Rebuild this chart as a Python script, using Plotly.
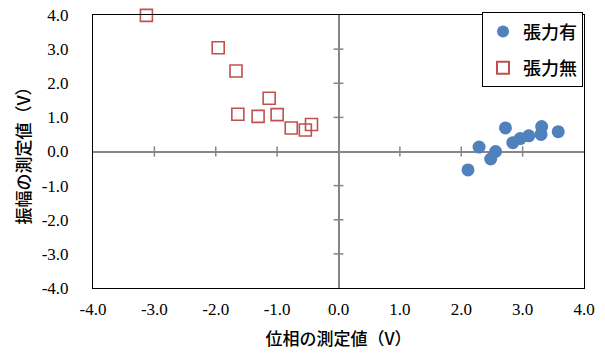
import plotly.graph_objects as go

# 張力有 (with tension) measurements
phase_with = [2.11, 2.29, 2.48, 2.56, 2.72, 2.84, 2.96, 3.10, 3.30, 3.31, 3.58]
amp_with = [-0.54, 0.13, -0.22, 0.00, 0.69, 0.26, 0.38, 0.46, 0.50, 0.73, 0.58]

# 張力無 (without tension) measurements
phase_without = [-3.13, -1.96, -1.67, -1.13, -1.64, -1.31, -1.00, -0.77, -0.54, -0.44]
amp_without = [3.99, 3.04, 2.36, 1.56, 1.09, 1.03, 1.08, 0.69, 0.63, 0.79]

tick_vals = [-4, -3, -2, -1, 0, 1, 2, 3, 4]
tick_text = ["-4.0", "-3.0", "-2.0", "-1.0", "0.0", "1.0", "2.0", "3.0", "4.0"]

jp_font = "Noto Sans CJK JP"
num_font = "'Times New Roman', 'Liberation Serif', 'DejaVu Serif', serif"
axis_gray = "#868686"

fig = go.Figure()
fig.add_trace(go.Scatter(
    x=phase_with, y=amp_with, mode="markers", name="張力有",
    legendgroup="a",
    marker=dict(symbol="circle", size=13, color="#4F81BD"),
    cliponaxis=False,
))
fig.add_trace(go.Scatter(
    x=phase_without, y=amp_without, mode="markers", name="張力無",
    legendgroup="b",
    marker=dict(symbol="square-open", size=12, color="#C0504D",
                line=dict(width=1.6, color="#C0504D")),
    cliponaxis=False,
))

# cross-style tick marks along the zero axes
shapes = []
for t in tick_vals:
    if t in (-4, 0, 4):
        continue
    shapes.append(dict(type="line", xref="x", yref="y", x0=t, x1=t, y0=-0.15, y1=0.15,
                       line=dict(color=axis_gray, width=1.5), layer="above"))
    shapes.append(dict(type="line", xref="x", yref="y", x0=-0.08, x1=0.08, y0=t, y1=t,
                       line=dict(color=axis_gray, width=1.5), layer="above"))

tick_font = dict(family=num_font, size=17, color="black")

fig.update_layout(
    width=605, height=354,
    margin=dict(l=93, r=21, t=15, b=66, autoexpand=False),
    paper_bgcolor="white", plot_bgcolor="white",
    shapes=shapes,
    showlegend=True,
    legend=dict(
        x=0.998, y=1.01, xanchor="right", yanchor="top",
        xref="paper", yref="paper",
        bgcolor="white", bordercolor="black", borderwidth=1,
        font=dict(family=jp_font, size=18, color="black", weight=500),
        tracegroupgap=10,
        itemsizing="constant",
        itemwidth=30,
    ),
    xaxis=dict(
        range=[-4, 4], tickvals=tick_vals, ticktext=tick_text,
        showgrid=False, zeroline=True, zerolinecolor=axis_gray, zerolinewidth=2,
        showline=True, linecolor="black", linewidth=1, mirror=True,
        ticks="", ticklabelstandoff=6, automargin=False,
        tickfont=tick_font,
        title=dict(text="位相の測定値（V）", standoff=14,
                   font=dict(family=jp_font, size=17, color="black", weight=500)),
    ),
    yaxis=dict(
        range=[-4, 4], tickvals=tick_vals, ticktext=tick_text,
        showgrid=False, zeroline=True, zerolinecolor=axis_gray, zerolinewidth=2,
        showline=True, linecolor="black", linewidth=1, mirror=True,
        ticks="", ticklabelstandoff=20, automargin=False,
        tickfont=tick_font,
        title=dict(text="振幅の測定値（V）", standoff=6,
                   font=dict(family=jp_font, size=17, color="black", weight=500)),
    ),
)

fig.write_html("out.html")
